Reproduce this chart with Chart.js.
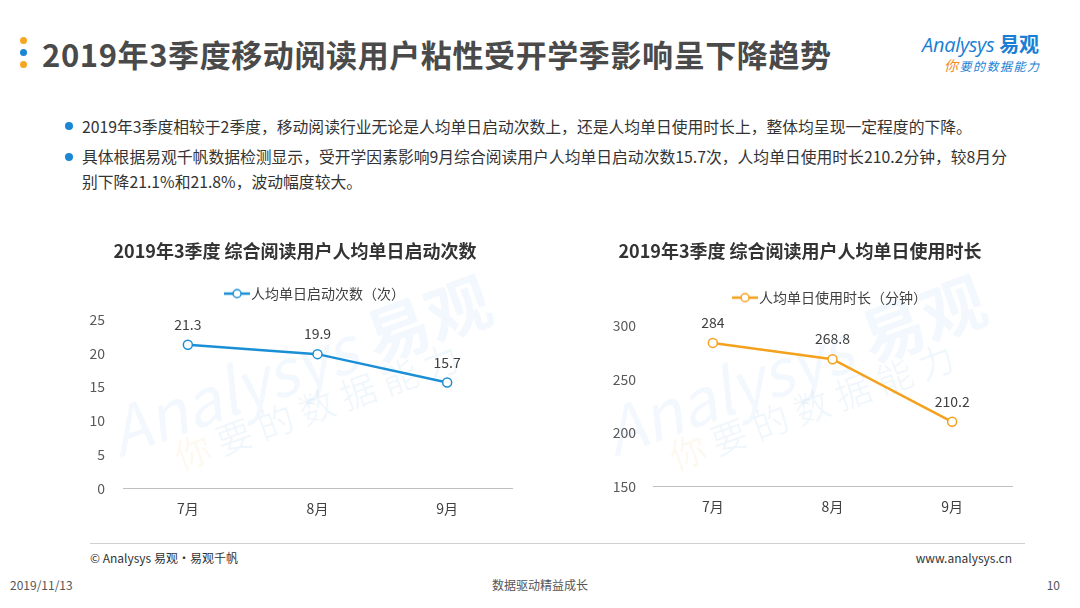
<!DOCTYPE html>
<html>
<head>
<meta charset="utf-8">
<script src="https://cdn.jsdelivr.net/npm/chart.js@4"></script>
<style>
  html, body { margin: 0; padding: 0; }
  body {
    width: 1080px; height: 608px; position: relative; overflow: hidden;
    background: #fff; font-family: "Noto Sans CJK SC", "Noto Sans", sans-serif;
  }
  .abs { position: absolute; white-space: nowrap; }
  .dot { position: absolute; width: 7px; height: 7px; border-radius: 50%; }
  .title { left: 42px; top: 31px; font-size: 31px; font-weight: bold; color: #4a4a4a; letter-spacing: 0.6px; }
  .bullet { left: 82px; font-size: 15.8px; color: #333; line-height: 25px; }
  .bdot { position: absolute; width: 8px; height: 8px; border-radius: 50%; background: #1a86d4; }
  .wm { position: absolute; white-space: nowrap; transform-origin: left center; pointer-events: none; }
  .chartbox { position: absolute; }
</style>
</head>
<body>
<!-- 标题 -->
<div class="dot" style="left:20px;top:37px;background:#f5a623"></div>
<div class="dot" style="left:20px;top:49px;background:#1a86d4"></div>
<div class="dot" style="left:20px;top:61px;background:#f5a623"></div>
<div class="abs title">2019年3季度移动阅读用户粘性受开学季影响呈下降趋势</div>

<!-- logo -->
<div class="abs" style="left:922px;top:29px;font-size:20px;color:#1a7fd4;font-style:italic;font-family:'Open Sans',sans-serif;letter-spacing:-0.3px">Analysys <span style="font-style:normal;font-weight:bold;font-family:'Noto Sans CJK SC'">易观</span></div>
<div class="abs" style="left:944px;top:55px;font-size:12px;color:#1a7fd4;font-style:italic;letter-spacing:1.5px"><span style="color:#f08c1e;font-size:14px">你</span>要的数据能力</div>

<!-- 说明文字 -->
<div class="bdot" style="left:65px;top:122px"></div>
<div class="abs bullet" style="top:114px">2019年3季度相较于2季度，移动阅读行业无论是人均单日启动次数上，还是人均单日使用时长上，整体均呈现一定程度的下降。</div>
<div class="bdot" style="left:65px;top:153px"></div>
<div class="abs bullet" style="top:144px">具体根据易观千帆数据检测显示，受开学因素影响9月综合阅读用户人均单日启动次数15.7次，人均单日使用时长210.2分钟，较8月分<br>别下降21.1%和21.8%，波动幅度较大。</div>

<!-- 水印 -->
<div class="wm" style="left:110px;top:385px;font-size:64px;color:rgba(30,140,215,0.06);transform:rotate(-20deg);font-style:italic">Analysys <span style="font-style:normal;font-weight:bold">易观</span></div>
<div class="wm" style="left:175px;top:430px;font-size:36px;color:rgba(30,140,215,0.06);transform:rotate(-20deg);letter-spacing:8px"><span style="color:rgba(240,160,30,0.08)">你</span>要的数据能力</div>
<div class="wm" style="left:605px;top:385px;font-size:64px;color:rgba(30,140,215,0.06);transform:rotate(-20deg);font-style:italic">Analysys <span style="font-style:normal;font-weight:bold">易观</span></div>
<div class="wm" style="left:670px;top:430px;font-size:36px;color:rgba(30,140,215,0.06);transform:rotate(-20deg);letter-spacing:8px"><span style="color:rgba(240,160,30,0.08)">你</span>要的数据能力</div>

<!-- 图表 -->
<div class="chartbox" style="left:60px;top:240px;width:470px;height:289px"><canvas id="launchChart"></canvas></div>
<div class="chartbox" style="left:560px;top:240px;width:480px;height:287px"><canvas id="durationChart"></canvas></div>

<!-- 页脚 -->
<div class="abs" style="left:90px;top:543px;width:935px;height:1px;background:#d0d0d0"></div>
<div class="abs" style="left:90px;top:549px;font-size:12px;color:#333">© Analysys 易观·易观千帆</div>
<div class="abs" style="right:68px;top:549px;font-size:12px;color:#333">www.analysys.cn</div>
<div class="abs" style="left:10px;top:576px;font-size:12px;color:#555">2019/11/13</div>
<div class="abs" style="left:0;width:1080px;text-align:center;top:576px;font-size:12px;color:#555">数据驱动精益成长</div>
<div class="abs" style="right:20px;top:576px;font-size:12px;color:#555">10</div>

<script>
// 数据
const months = ['7月', '8月', '9月'];
const launchCounts = [21.3, 19.9, 15.7];
const launchTicks = [0, 5, 10, 15, 20, 25];
const durationMinutes = [284, 268.8, 210.2];
const durationTicks = [150, 200, 250, 300];

const BLUE = '#1b8fd6';
const ORANGE = '#f4a11d';
const FONT = '"Noto Sans CJK SC", "Noto Sans", sans-serif';

// 图例标记：线 + 空心圆
function legendMarker(color) {
    const c = document.createElement('canvas');
    c.width = 26; c.height = 12;
    const ctx = c.getContext('2d');
    ctx.strokeStyle = color;
    ctx.lineWidth = 2.5;
    ctx.beginPath(); ctx.moveTo(0, 6); ctx.lineTo(26, 6); ctx.stroke();
    ctx.fillStyle = '#fff';
    ctx.lineWidth = 1.5;
    ctx.beginPath(); ctx.arc(13, 6, 4, 0, Math.PI * 2); ctx.fill(); ctx.stroke();
    return c;
}

// 数据标签
const valueLabels = {
    id: 'valueLabels',
    afterDatasetsDraw(chart) {
        const ctx = chart.ctx;
        ctx.save();
        ctx.font = '14px ' + FONT;
        ctx.fillStyle = '#404040';
        ctx.textAlign = 'center';
        ctx.textBaseline = 'middle';
        chart.getDatasetMeta(0).data.forEach((pt, i) => {
            ctx.fillText(String(chart.data.datasets[0].data[i]), pt.x, pt.y - 20);
        });
        ctx.restore();
    }
};

function makeChart(canvasId, opts) {
    const canvas = document.getElementById(canvasId);
    if (!canvas) {
        return;
    }
    new Chart(canvas.getContext('2d'), {
        type: 'line',
        data: {
            labels: months,
            datasets: [{
                label: opts.label,
                data: opts.data,
                borderColor: opts.color,
                backgroundColor: '#fff',
                borderWidth: 2.5,
                pointRadius: 4.5,
                pointBorderWidth: 1.5,
                pointBackgroundColor: '#fff',
                pointBorderColor: opts.color,
                tension: 0
            }]
        },
        options: {
            responsive: true,
            maintainAspectRatio: false,
            animation: false,
            layout: { padding: { left: opts.pad, right: opts.pad, top: 0, bottom: 0 } },
            plugins: {
                title: {
                    display: true,
                    text: opts.title,
                    color: '#333',
                    font: { family: FONT, size: 18, weight: 'bold' },
                    padding: { top: 0, bottom: opts.titleGap }
                },
                legend: {
                    display: true,
                    fullSize: false, // 图例在绘图区上方居中
                    labels: {
                        usePointStyle: true,
                        pointStyle: legendMarker(opts.color),
                        color: '#404040',
                        font: { family: FONT, size: 14 },
                        padding: 10
                    }
                },
                // 图例与绘图区之间的空隙
                subtitle: {
                    display: true,
                    text: '',
                    weight: 500,
                    font: { size: 1 },
                    padding: { top: 0, bottom: opts.legendGap }
                },
                tooltip: { enabled: false }
            },
            scales: {
                x: {
                    offset: true,
                    grid: { display: false, drawTicks: false },
                    border: { display: true, color: '#bfbfbf', width: 1 },
                    ticks: { color: '#404040', font: { family: FONT, size: 14 }, padding: 12 }
                },
                y: {
                    min: opts.ticks[0],
                    max: opts.ticks[opts.ticks.length - 1],
                    afterBuildTicks: (axis) => { axis.ticks = opts.ticks.map(v => ({ value: v })); },
                    afterFit: (axis) => { axis.width = opts.axisWidth; },
                    grid: { display: false, drawTicks: false },
                    border: { display: false },
                    ticks: { color: '#595959', font: { family: FONT, size: 14 }, padding: opts.tickPad }
                }
            }
        },
        plugins: [valueLabels]
    });
}

document.addEventListener('DOMContentLoaded', () => {
    makeChart('launchChart', {
        title: '2019年3季度 综合阅读用户人均单日启动次数',
        label: '人均单日启动次数（次）',
        data: launchCounts,
        ticks: launchTicks,
        color: BLUE,
        pad: 18,
        axisWidth: 45,
        tickPad: 18,
        titleGap: 15,
        legendGap: 8
    });

    makeChart('durationChart', {
        title: '2019年3季度 综合阅读用户人均单日使用时长',
        label: '人均单日使用时长（分钟）',
        data: durationMinutes,
        ticks: durationTicks,
        color: ORANGE,
        pad: 28,
        axisWidth: 65,
        tickPad: 17,
        titleGap: 19,
        legendGap: 10
    });
});
</script>
</body>
</html>
